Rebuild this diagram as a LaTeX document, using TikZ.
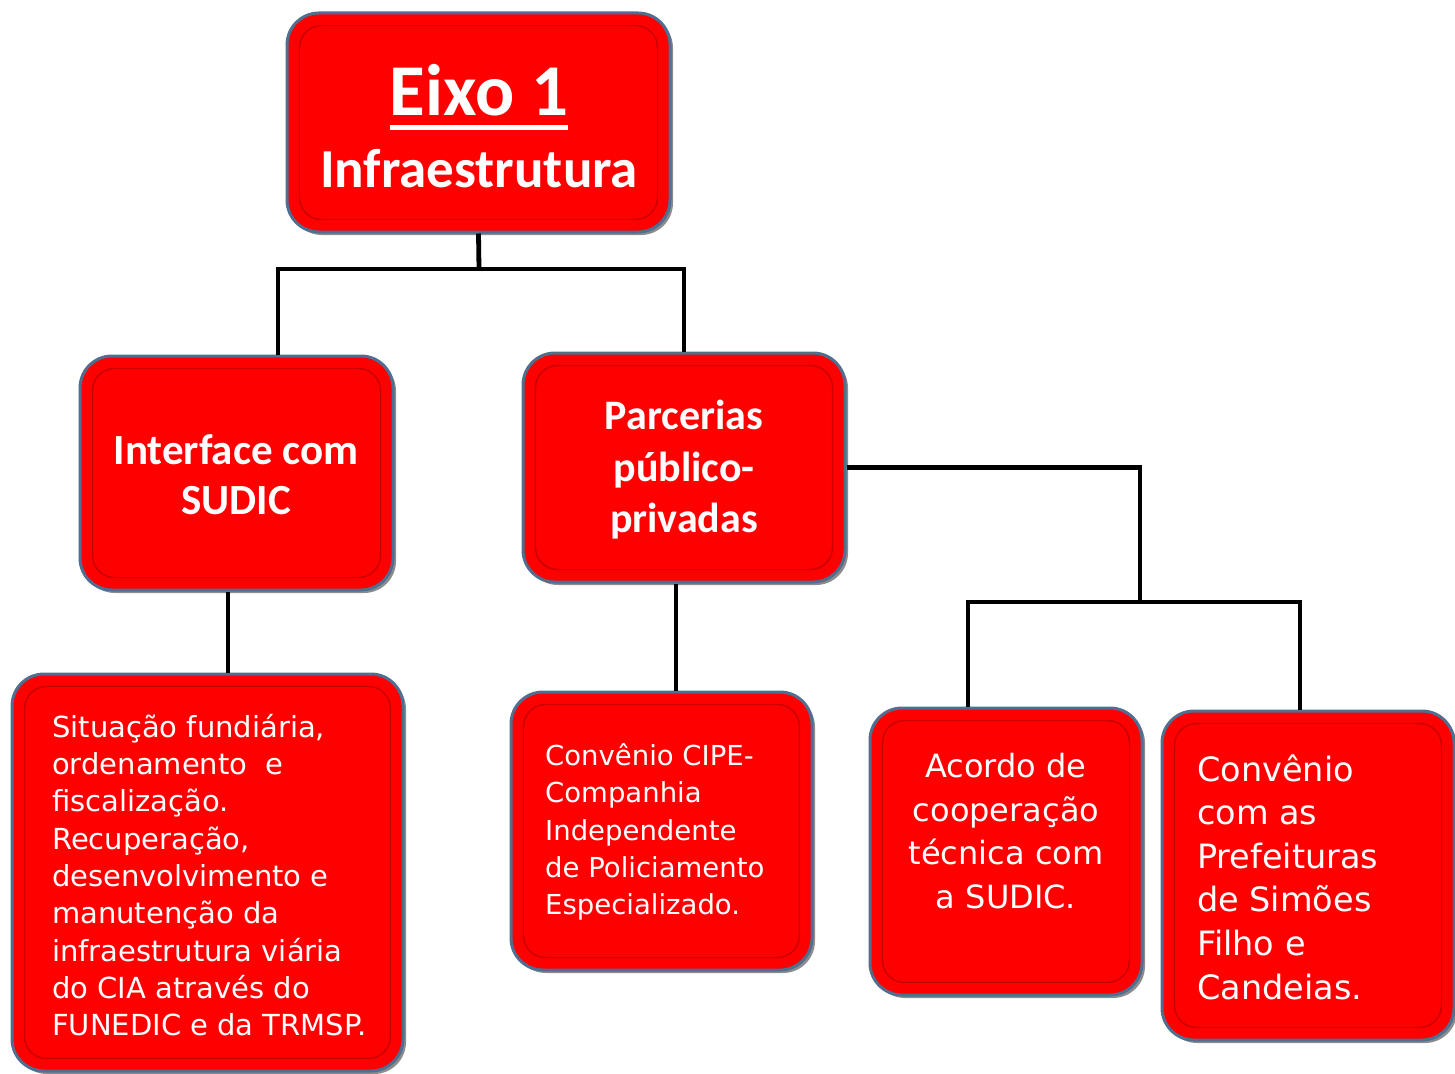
\documentclass[tikz,border=0pt]{standalone}
\usepackage{fontspec}
\usetikzlibrary{shadows}
\newfontfamily\hfont{Carlito}
\newfontfamily\bfont{DejaVu Sans}
\definecolor{boxred}{HTML}{FF0000}
\definecolor{boxedge}{HTML}{4F6E90}
\definecolor{insetred}{HTML}{C80000}
\tikzset{
  box/.style={rectangle, rounded corners=32pt, fill=boxred, draw=boxedge, line width=3pt,
    drop shadow={shadow xshift=3pt, shadow yshift=-3pt, fill=black, opacity=0.45}},
  inset/.style={draw=insetred, line width=1.4pt, rounded corners=22pt},
  conn/.style={draw=black, line width=4.8pt},
  head/.style={text=white, align=center, inner sep=0pt},
  body/.style={text=white, inner sep=0pt},
  hsize/.style 2 args={font=\hfont\bfseries\fontsize{#1}{#2}\selectfont},
  bsize/.style 2 args={font=\bfont\fontsize{#1}{#2}\selectfont},
}
\newcommand\mkbox[4]{%
  \node[box, minimum width=#3pt, minimum height=#4pt] (#1) at (#2) {};
  \draw[inset] ([shift={(14,14)}]#1.north west) rectangle ([shift={(-14,-14)}]#1.south east);
}
\begin{document}
\begin{tikzpicture}[x=1pt,y=-1pt]
\useasboundingbox (0,0) rectangle (1455,1073);
\coordinate (j1) at (479,269);
\coordinate (j2) at (1140,602);
% boxes
\mkbox{top}{478.5,122.5}{383}{219}
\mkbox{iface}{236.5,473}{313}{234}
\mkbox{parc}{684,467.5}{322}{229}
\mkbox{sit}{207.5,872.5}{391}{397}
\mkbox{cipe}{661.5,831}{301}{278}
\mkbox{acordo}{1006,851.5}{272}{287}
\mkbox{conv}{1308,875.5}{292}{329}
\coordinate (ia) at ([xshift=41.5pt]iface.north);
\coordinate (sa) at ([xshift=-8.5pt]iface.south);
\coordinate (pa) at ([xshift=-8pt]parc.south);
\coordinate (aa) at ([xshift=-38pt]acordo.north);
\coordinate (ca) at ([xshift=-8pt]conv.north);
\draw[conn] (top.south) -- (j1);
\draw[conn] (j1) -| (parc.north);
\draw[conn] (j1) -| (ia);
\draw[conn] (sa) -- (sa |- sit.north);
\draw[conn] (pa) -- (pa |- cipe.north);
\draw[conn] (parc.east) -| (j2);
\draw[conn] (j2) -| (aa);
\draw[conn] (j2) -| (ca);
% texts
\node[head, hsize={73}{80}, anchor=base] (eixo) at (479,115)
  {\vtop{\hbox{Eixo 1}\kern9pt\hrule height 5pt}};
\node[head, hsize={55}{60}, anchor=base] (infra) at (479,187) {Infraestrutura};
\node[head, hsize={43}{50}] (ifacet) at (236,475) {Interface com\\SUDIC};
\node[head, hsize={42}{51.5}] (parct) at (684,470) {Parcerias\\público-\\privadas};
\node[body, bsize={29}{37.3}, anchor=west, align=left] (sitt) at (52,875)
  {Situação fundiária,\\ordenamento\ \ e\\fiscalização.\\Recuperação,\\desenvolvimento e\\manutenção da\\infraestrutura viária\\do CIA através do\\FUNEDIC e da TRMSP.};
\node[body, bsize={27.5}{37.3}, anchor=west, align=left] (cipet) at (545,832)
  {Convênio CIPE-\\Companhia\\Independente\\de Policiamento\\Especializado.};
\node[body, bsize={32}{43.7}, align=center] (acordot) at (1006,831)
  {Acordo de\\cooperação\\técnica com\\a SUDIC.};
\node[body, bsize={33.5}{43.6}, anchor=west, align=left] (convt) at (1197,877)
  {Convênio\\com as\\Prefeituras\\de Simões\\Filho e\\Candeias.};
\end{tikzpicture}
\end{document}
